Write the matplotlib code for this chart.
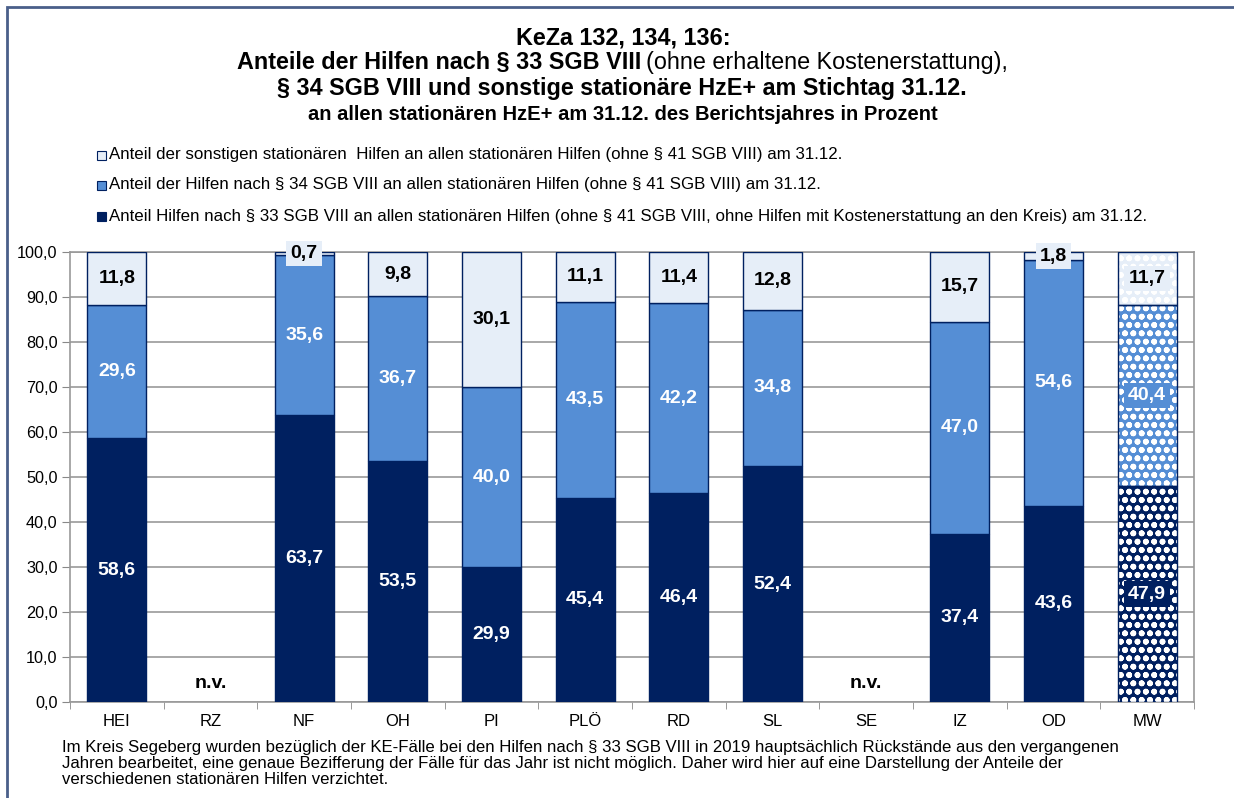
import numpy as np
import matplotlib
matplotlib.use("Agg")
from matplotlib import pyplot as plt
from matplotlib.patches import Rectangle

plt.rcParams['font.family'] = ['Liberation Sans', 'DejaVu Sans']

# data (percent), nan = n.v.
regions = ["HEI", "RZ", "NF", "OH", "PI", "PLÖ", "RD", "SL", "SE", "IZ", "OD", "MW"]
s33 = [58.6, np.nan, 63.7, 53.5, 29.9, 45.4, 46.4, 52.4, np.nan, 37.4, 43.6, 47.9]
s34 = [29.6, np.nan, 35.6, 36.7, 40.0, 43.5, 42.2, 34.8, np.nan, 47.0, 54.6, 40.4]
sonst = [11.8, np.nan, 0.7, 9.8, 30.1, 11.1, 11.4, 12.8, np.nan, 15.7, 1.8, 11.7]
nv_pos = 4.2  # height of "n.v." text

legend_labels = [
    "Anteil der sonstigen stationären  Hilfen an allen stationären Hilfen (ohne § 41 SGB VIII) am 31.12.",
    "Anteil der Hilfen nach § 34 SGB VIII an allen stationären Hilfen (ohne § 41 SGB VIII) am 31.12.",
    "Anteil Hilfen nach § 33 SGB VIII an allen stationären Hilfen (ohne § 41 SGB VIII, ohne Hilfen mit Kostenerstattung an den Kreis) am 31.12.",
]
footnote = ("Im Kreis Segeberg wurden bezüglich der KE-Fälle bei den Hilfen nach § 33 SGB VIII in 2019 hauptsächlich Rückstände aus den vergangenen\n"
            "Jahren bearbeitet, eine genaue Bezifferung der Fälle für das Jahr ist nicht möglich. Daher wird hier auf eine Darstellung der Anteile der\n"
            "verschiedenen stationären Hilfen verzichtet.")

navy = "#002060"
blue = "#558ED5"
light = "#E6EEF8"
W, H = 1234, 798

fig = plt.figure(figsize=(W / 100, H / 100), dpi=100)
ax = fig.add_axes([70 / W, 1 - 702 / H, 1124 / W, 450 / H])

x = np.arange(len(regions))
bw = 0.63
layers = [(s33, navy, "white"), (s34, blue, "white"), (sonst, light, "black")]
bottom = np.zeros(len(regions))
plt.rcParams['hatch.linewidth'] = 1.8
for vals, col, tcol in layers:
    v = np.array(vals)
    ok = ~np.isnan(v)
    for i in np.where(ok)[0]:
        if regions[i] == "MW":
            ax.bar(x[i], v[i], bw, bottom=bottom[i], color=col, edgecolor="white",
                   hatch="oo", linewidth=0, zorder=3)
            ax.bar(x[i], v[i], bw, bottom=bottom[i], color="none", edgecolor=navy,
                   linewidth=1, zorder=4)
        else:
            ax.bar(x[i], v[i], bw, bottom=bottom[i], color=col, edgecolor=navy,
                   linewidth=1, zorder=3)
        ax.text(x[i], bottom[i] + v[i] / 2, f"{v[i]:.1f}".replace(".", ","),
                ha="center", va="center", fontsize=14, fontweight="bold", color=tcol,
                zorder=5, bbox=dict(boxstyle="square,pad=0.22", fc=col, ec="none"))
    bottom[ok] += v[ok]

for i in range(len(regions)):
    if np.isnan(s33[i]):
        ax.text(x[i], nv_pos, "n.v.", ha="center", va="center", fontsize=14, fontweight="bold")

ax.set_xlim(-0.5, len(regions) - 0.5)
ax.set_ylim(0, 100)
ax.set_yticks(np.arange(0, 101, 10))
ax.set_yticklabels([f"{t:.1f}".replace(".", ",") for t in np.arange(0, 101, 10)], fontsize=11.7)
ax.set_xticks(x)
ax.set_xticklabels(regions, fontsize=12)
ax.tick_params(axis="x", length=0, pad=9)
ax.set_xticks(np.arange(-0.5, len(regions)), minor=True)
ax.tick_params(axis="x", which="minor", length=5, color="#888888")
ax.tick_params(axis="y", length=6, color="#888888", pad=3)
ax.yaxis.grid(True, color="#999999", linewidth=1.2, zorder=0)
ax.set_axisbelow(True)
for sp in ax.spines.values():
    sp.set_color("#999999")
    sp.set_linewidth(1.2)

# title
fig.text(623 / W, 1 - 38 / H, "KeZa 132, 134, 136:", ha="center", va="center",
         fontsize=16.8, fontweight="bold")
fig.text(641 / W, 1 - 62 / H, "Anteile der Hilfen nach § 33 SGB VIII", ha="right", va="center",
         fontsize=16.8, fontweight="bold")
fig.text(646 / W, 1 - 62 / H, "(ohne erhaltene Kostenerstattung),", ha="left", va="center",
         fontsize=16.8)
fig.text(622 / W, 1 - 88 / H, "§ 34 SGB VIII und sonstige stationäre HzE+ am Stichtag 31.12.",
         ha="center", va="center", fontsize=16.8, fontweight="bold")
fig.text(623 / W, 1 - 114 / H, "an allen stationären HzE+ am 31.12. des Berichtsjahres in Prozent",
         ha="center", va="center", fontsize=14.5, fontweight="bold")

# legend
for lab, col, yy in zip(legend_labels, [light, blue, navy], [155, 185, 216]):
    fig.patches.append(Rectangle((97 / W, 1 - (yy + 4.5) / H), 9 / W, 9 / H, fc=col, ec=navy,
                                 lw=0.8, transform=fig.transFigure, figure=fig))
    fig.text(109 / W, 1 - yy / H, lab, ha="left", va="center", fontsize=12.15)

fig.text(62 / W, 1 - 740 / H, footnote, ha="left", va="top", fontsize=12.1, linespacing=1.1)

# frame
fig.patches.append(Rectangle((7 / W, -0.05), 1.1, 1 - 7 / H + 0.05, fc="none", ec="#4A5F8A",
                             lw=2, transform=fig.transFigure, figure=fig))

fig.savefig("out.png", dpi=100)
